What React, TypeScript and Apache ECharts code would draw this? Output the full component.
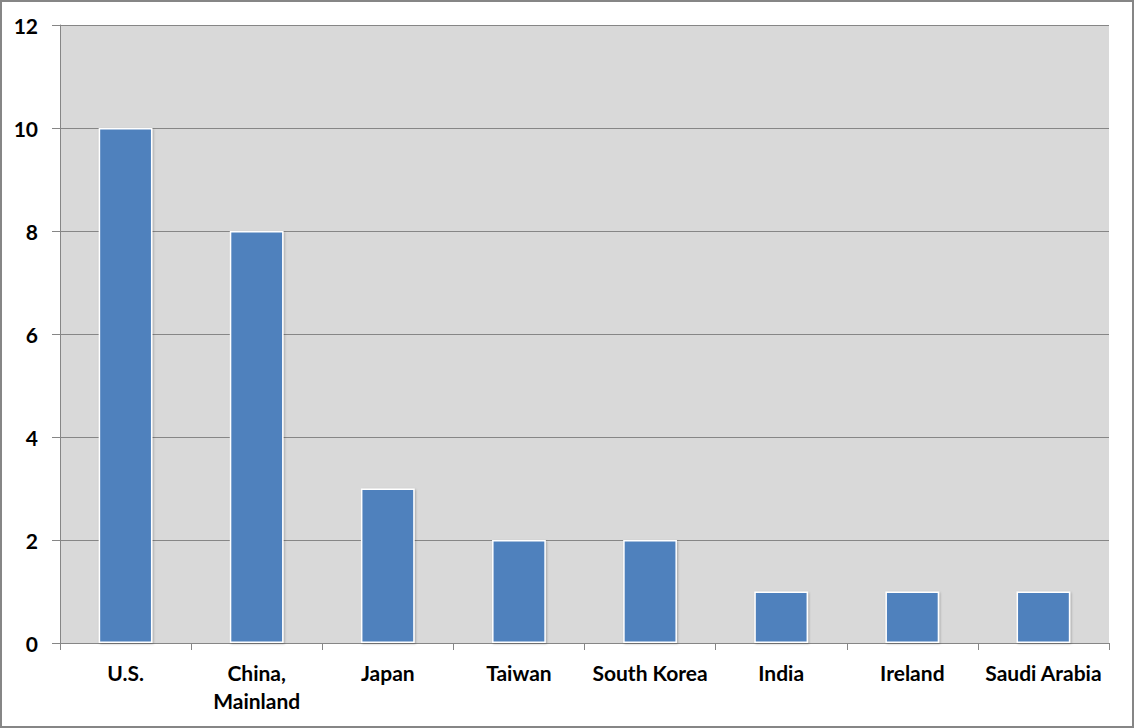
import React, { useEffect, useRef } from "react";
import * as echarts from "echarts";

const categories = ["U.S.", "China,\nMainland", "Japan", "Taiwan", "South Korea", "India", "Ireland", "Saudi Arabia"];
const values = [10, 8, 3, 2, 2, 1, 1, 1];
const yMin = 0;
const yMax = 12;
const yInterval = 2;

export default function App() {
  const ref = useRef<HTMLDivElement>(null);
  useEffect(() => {
    const chart = echarts.init(ref.current!, null, { renderer: "svg" });
    const font = "Lato, 'Open Sans', sans-serif";
    chart.setOption({
      animation: false,
      backgroundColor: "#ffffff",
      graphic: [
        {
          type: "rect",
          shape: { x: 1, y: 1, width: 1132, height: 726 },
          style: { fill: "none", stroke: "#868686", lineWidth: 2 },
          z: 100,
        },
      ],
      grid: {
        left: 60,
        right: 25,
        top: 25,
        bottom: 85,
        show: true,
        backgroundColor: "#d9d9d9",
        borderWidth: 0,
      },
      xAxis: {
        type: "category",
        data: categories,
        axisLine: { show: true, lineStyle: { color: "#868686", width: 1 } },
        axisTick: { show: true, length: 7, alignWithLabel: false, lineStyle: { color: "#868686" } },
        axisLabel: {
          color: "#000000",
          fontFamily: font,
          fontWeight: "bold",
          fontSize: 21,
          margin: 15,
          lineHeight: 28,
          interval: 0,
        },
      },
      yAxis: {
        type: "value",
        min: yMin,
        max: yMax,
        interval: yInterval,
        axisLine: { show: true, lineStyle: { color: "#868686", width: 1 } },
        axisTick: { show: true, length: 8, lineStyle: { color: "#868686" } },
        splitLine: { show: true, lineStyle: { color: "#868686", width: 1 } },
        axisLabel: {
          color: "#000000",
          fontFamily: font,
          fontWeight: "bold",
          fontSize: 21,
          margin: 22,
        },
      },
      series: [
        {
          type: "bar",
          data: values,
          barWidth: "41%",
          itemStyle: {
            color: "#4f81bd",
            borderColor: "#ffffff",
            borderWidth: 1.5,
            shadowColor: "rgba(0,0,0,0.25)",
            shadowBlur: 2,
            shadowOffsetX: 1,
            shadowOffsetY: 1,
          },
        },
      ],
    });
    return () => chart.dispose();
  }, []);
  return (
    <div
      ref={ref}
      style={{ position: "fixed", left: 0, top: 0, width: 1134, height: 728 }}
    />
  );
}
